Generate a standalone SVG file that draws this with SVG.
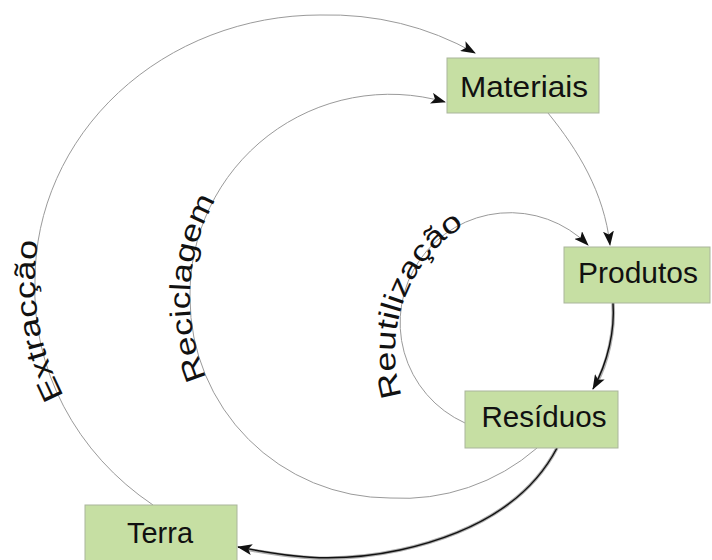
<svg xmlns="http://www.w3.org/2000/svg" xmlns:xlink="http://www.w3.org/1999/xlink" width="712" height="560" viewBox="0 0 712 560">
<style>
.box{fill:#c6dfa3;stroke:#aab59c;stroke-width:1}
.lbl{font-family:"Liberation Sans",Arial,sans-serif;font-size:30px;fill:#111;text-anchor:middle}
.arc{fill:none;stroke:#9a9a9a;stroke-width:1}
.dark{fill:none;stroke:#111;stroke-width:1.4}
.shade{fill:none;stroke:#b0b0b0;stroke-width:3.5}
.cl{font-family:"Liberation Sans",Arial,sans-serif;font-size:29px;fill:#111;text-anchor:middle}
</style>
<defs>
<marker id="ah" markerUnits="userSpaceOnUse" markerWidth="15" markerHeight="11" viewBox="0 0 15 11" refX="14" refY="5.5" orient="auto">
<path d="M0,0 L15,5.5 L0,11 L3.5,5.5 Z" fill="#111"/>
</marker>
<path id="tpExt" d="M83,427 A285 265 0 0 1 46.5,205.6"/>
<path id="tpRec" d="M253.6,444.3 A200 200 0 0 1 269.6,138.3"/>
<path id="tpReu" d="M429.6,446.1 A148 148 0 0 1 517.3,205.3"/>
</defs>
<g id="connectors">
<path id="extraccao" class="arc" d="M153,505 A285 265 0 0 1 35,280 A285 265 0 0 1 320,15 A285 265 0 0 1 475,53" marker-end="url(#ah)"/>
<path id="reciclagem" class="arc" d="M537,448 A205 205 0 0 1 390,498 A200 200 0 0 1 190,298 A200 200 0 0 1 445,102" marker-end="url(#ah)"/>
<path id="reutilizacao" class="arc" d="M465,423 A110 110 0 1 1 588,245" marker-end="url(#ah)"/>
<path id="mat-prod" class="arc" d="M548,113 C578,150 604,192 610,245" marker-end="url(#ah)"/>
<path class="shade" d="M613,303 C615,330 608,362 596,384"/>
<path id="prod-res" class="dark" d="M613,303 C615,330 608,362 593,389" marker-end="url(#ah)"/>
<path class="shade" d="M557,448 C535,490 490,530 400,550 C330,565 285,556 245,549"/>
<path id="res-terra" class="dark" d="M557,448 C535,490 490,530 400,550 C330,565 280,555 238,547" marker-end="url(#ah)"/>
</g>
<g id="connector-labels">
<text class="cl"><textPath xlink:href="#tpExt" href="#tpExt" startOffset="50%" textLength="160" lengthAdjust="spacingAndGlyphs">Extracção</textPath></text>
<text class="cl"><textPath xlink:href="#tpRec" href="#tpRec" startOffset="50%" textLength="185" lengthAdjust="spacingAndGlyphs">Reciclagem</textPath></text>
<text class="cl"><textPath xlink:href="#tpReu" href="#tpReu" startOffset="50%" textLength="195" lengthAdjust="spacingAndGlyphs">Reutilização</textPath></text>
</g>
<g id="materiais">
<rect class="box" x="447" y="58" width="152" height="55"/>
<text class="lbl" x="524" y="97" textLength="128" lengthAdjust="spacingAndGlyphs">Materiais</text>
</g>
<g id="produtos">
<rect class="box" x="564" y="247" width="146" height="56"/>
<text class="lbl" x="638" y="283" textLength="120" lengthAdjust="spacingAndGlyphs">Produtos</text>
</g>
<g id="residuos">
<rect class="box" x="465" y="391" width="153" height="57"/>
<text class="lbl" x="544" y="427" textLength="125" lengthAdjust="spacingAndGlyphs">Resíduos</text>
</g>
<g id="terra">
<rect class="box" x="85" y="505" width="152" height="60"/>
<text class="lbl" x="160" y="543" textLength="66" lengthAdjust="spacingAndGlyphs">Terra</text>
</g>
</svg>
